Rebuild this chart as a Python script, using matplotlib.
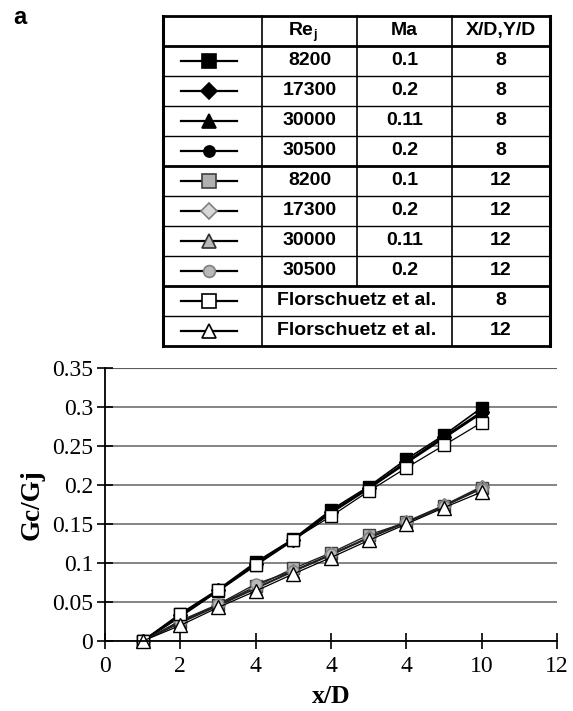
import matplotlib
matplotlib.use('Agg')
import matplotlib.pyplot as plt

# ---------------- data ----------------
x_d = [1, 2, 3, 4, 5, 6, 7, 8, 9, 10]

# X/D = 8 (present work)
re8200_8 = [0, 0.035, 0.066, 0.101, 0.131, 0.168, 0.198, 0.233, 0.264, 0.299]
re17300_8 = [0, 0.033, 0.065, 0.099, 0.130, 0.166, 0.196, 0.230, 0.262, 0.294]
re30000_8 = [0, 0.032, 0.064, 0.098, 0.130, 0.165, 0.196, 0.229, 0.261, 0.293]
re30500_8 = [0, 0.031, 0.064, 0.097, 0.129, 0.164, 0.195, 0.228, 0.260, 0.292]
# X/D = 12 (present work)
re8200_12 = [0, 0.025, 0.046, 0.070, 0.093, 0.113, 0.136, 0.152, 0.173, 0.196]
re17300_12 = [0, 0.024, 0.046, 0.068, 0.090, 0.111, 0.133, 0.153, 0.174, 0.198]
re30000_12 = [0, 0.023, 0.045, 0.067, 0.089, 0.110, 0.132, 0.152, 0.173, 0.196]
re30500_12 = [0, 0.026, 0.047, 0.073, 0.090, 0.111, 0.132, 0.152, 0.173, 0.195]
# Florschuetz et al.
flor_8 = [0, 0.034, 0.065, 0.097, 0.130, 0.160, 0.192, 0.222, 0.251, 0.280]
flor_12 = [0, 0.020, 0.043, 0.064, 0.086, 0.107, 0.129, 0.150, 0.171, 0.191]

# table contents
table_re = ['8200', '17300', '30000', '30500', '8200', '17300', '30000', '30500',
            'Florschuetz et al.', 'Florschuetz et al.']
table_ma = ['0.1', '0.2', '0.11', '0.2', '0.1', '0.2', '0.11', '0.2', '', '']
table_xd = ['8', '8', '8', '8', '12', '12', '12', '12', '8', '12']

y_ticks = [0, 0.05, 0.1, 0.15, 0.2, 0.25, 0.3, 0.35]
y_tick_labels = ['0', '0.05', '0.1', '0.15', '0.2', '0.25', '0.3', '0.35']
x_ticks = [0, 2, 4, 6, 8, 10, 12]
x_tick_labels = ['0', '2', '4', '4', '4', '10', '12']

series = [re8200_8, re17300_8, re30000_8, re30500_8,
          re8200_12, re17300_12, re30000_12, re30500_12,
          flor_8, flor_12]

# ---------------- styles ----------------
styles = [
    dict(marker='s', mfc='black', mec='black', ms=8, color='black', lw=1.2),
    dict(marker='D', mfc='black', mec='black', ms=7, color='black', lw=1.2),
    dict(marker='^', mfc='black', mec='black', ms=8.5, color='black', lw=1.2),
    dict(marker='o', mfc='black', mec='black', ms=7, color='black', lw=1.2),
    dict(marker='s', mfc='#b0b0b0', mec='#404040', ms=8, color='#202020', lw=1.0, mew=1.0),
    dict(marker='D', mfc='#d8d8d8', mec='#808080', ms=7, color='#202020', lw=1.0, mew=1.0),
    dict(marker='^', mfc='#b8b8b8', mec='#303030', ms=8.5, color='#202020', lw=1.0, mew=1.0),
    dict(marker='o', mfc='#b8b8b8', mec='#808080', ms=8, color='#202020', lw=1.0, mew=1.0),
    dict(marker='s', mfc='white', mec='black', ms=9, color='black', lw=0.9, mew=1.0),
    dict(marker='^', mfc='white', mec='black', ms=10, color='black', lw=0.9, mew=1.0),
]

W, H = 573, 711
fig = plt.figure(figsize=(W / 100, H / 100), dpi=100)

# ---------------- main chart ----------------
ax = fig.add_axes([105 / W, (H - 641) / H, 452 / W, 273 / H])
for ys, st in zip(series, styles):
    ax.plot(x_d, ys, clip_on=False, **st)

ax.set_xlim(0, 12)
ax.set_ylim(0, 0.35)
ax.set_xticks(x_ticks)
ax.set_xticklabels(x_tick_labels)
ax.set_yticks(y_ticks)
ax.set_yticklabels(y_tick_labels)
for lab in ax.get_xticklabels() + ax.get_yticklabels():
    lab.set_family('Liberation Serif')
    lab.set_fontsize(17)
ax.tick_params(axis='both', direction='inout', length=11, width=1.2, color='black')
ax.tick_params(axis='x', pad=5)
ax.tick_params(axis='y', pad=3)
ax.yaxis.grid(True, color='#707070', lw=1.2)
ax.set_axisbelow(True)
for side in ['top', 'right']:
    ax.spines[side].set_visible(False)
ax.spines['left'].set_linewidth(1.3)
ax.spines['bottom'].set_linewidth(1.3)
ax.axhline(0.35, color='black', lw=1.5, zorder=0.5)
ax.set_xlabel('x/D', family='Liberation Serif', fontweight='bold', fontsize=18.5, labelpad=6)
ax.set_ylabel('Gc/Gj', family='Liberation Serif', fontweight='bold', fontsize=19.5, labelpad=5)

# ---------------- legend table ----------------
tax = fig.add_axes([0, 0, 1, 1])
tax.set_xlim(0, W)
tax.set_ylim(H, 0)
tax.axis('off')
tax.patch.set_visible(False)

tl, tr, tt, tb = 163, 550, 15.5, 346
cols = [tl, 262, 357, 452, tr]
rh = (tb - tt) / 11.0
tfont = dict(family='Liberation Sans', fontweight='bold', fontsize=14, color='black',
             ha='center', va='center')

# horizontal lines
for i in range(12):
    y = tt + i * rh
    thick = i in (0, 1, 5, 9, 11)
    tax.plot([tl, tr], [y, y], color='black', lw=2.0 if thick else 1.0, solid_capstyle='butt')
# vertical lines
tax.plot([tl, tl], [tt, tb], color='black', lw=2.2)
tax.plot([tr, tr], [tt, tb], color='black', lw=2.2)
tax.plot([cols[1], cols[1]], [tt, tb], color='black', lw=1.2)
tax.plot([cols[3], cols[3]], [tt, tb], color='black', lw=1.2)
tax.plot([cols[2], cols[2]], [tt, tt + 9 * rh], color='black', lw=1.2)

# header
hy = tt + rh / 2
tax.text(313, hy, 'Re', **{**tfont, 'ha': 'right'})
tax.text(313.5, hy + 4, 'j', **{**tfont, 'ha': 'left', 'fontsize': 9})
tax.text((cols[2] + cols[3]) / 2, hy, 'Ma', **tfont)
tax.text((cols[3] + cols[4]) / 2, hy, 'X/D,Y/D', **tfont)

leg_ms = [10, 8, 10, 8, 10, 8.5, 10, 8.5, 10, 10]
for i in range(10):
    cy = tt + rh * (i + 1.5)
    cx = 209
    st = styles[i]
    tax.plot([cx - 28, cx + 28], [cy, cy], color='black', lw=1.6)
    tax.plot([cx], [cy], marker=st['marker'], mfc=st['mfc'], mec=st['mec'],
             ms=leg_ms[i], mew=1.2, ls='none')
    if i < 8:
        tax.text((cols[1] + cols[2]) / 2, cy, table_re[i], **tfont)
        tax.text((cols[2] + cols[3]) / 2, cy, table_ma[i], **tfont)
    else:
        tax.text((cols[1] + cols[3]) / 2, cy, table_re[i], **tfont)
    tax.text((cols[3] + cols[4]) / 2, cy, table_xd[i], **tfont)

fig.text(20 / W, 1 - 18 / H, 'a', family='Liberation Sans', fontweight='bold',
         fontsize=17, ha='center', va='center')

fig.savefig('out.png', dpi=100)
